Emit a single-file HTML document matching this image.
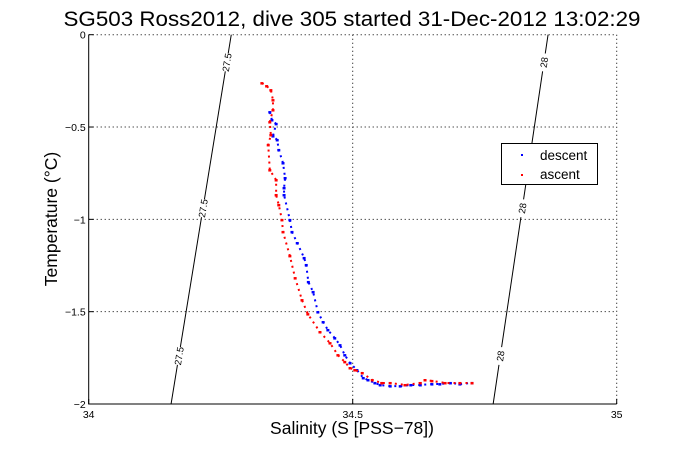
<!DOCTYPE html>
<html><head><meta charset="utf-8"><style>
html,body{margin:0;padding:0;background:#fff;}
svg{display:block;font-family:"Liberation Sans",Arial,sans-serif;}
</style></head><body>
<svg id="chart" width="681" height="454" xmlns="http://www.w3.org/2000/svg">
<rect width="681" height="454" fill="#fff"/>
<g id="grid"></g>
<g id="iso"></g>
<g id="series"></g>
<g id="axes"></g>
<text x="352" y="26" font-size="21.5" text-anchor="middle" textLength="577" lengthAdjust="spacingAndGlyphs">SG503 Ross2012, dive 305 started 31-Dec-2012 13:02:29</text>
<text x="352" y="434" font-size="17.5" text-anchor="middle">Salinity (S [PSS−78])</text>
<text transform="translate(57,219) rotate(-90)" font-size="17.5" text-anchor="middle">Temperature (°C)</text>
<g>
<rect x="501.5" y="143.5" width="96" height="41" fill="#fff" stroke="#000" stroke-width="1"/>
<rect x="521" y="154" width="2" height="2" fill="#00f"/>
<text x="540" y="160" font-size="13.5">descent</text>
<rect x="521" y="174" width="2" height="2" fill="#f00"/>
<text x="540" y="179" font-size="13.5">ascent</text>
</g>
</svg>
<script>
const xTicks=[34,34.5,35];
const xTickLabels=["34","34.5","35"];
const yTicks=[0,-0.5,-1,-1.5,-2];
const yTickLabels=["0","−0.5","−1","−1.5","−2"];
const isoLevels=["27.5","28"];
const isoSTop=[34.270,34.870];
const isoSBottom=[34.156,34.766];
const descentS=[34.343,34.347,34.355,34.349,34.357,34.360,34.368,34.372,34.370,34.370,34.381,34.385,34.395,34.408,34.412,34.416,34.425,34.434,34.444,34.453,34.466,34.476,34.485,34.495,34.508,34.520,34.529,34.542,34.552,34.571,34.590,34.610,34.628,34.650,34.665,34.685,34.703,34.726];
const descentT=[-0.419,-0.462,-0.483,-0.549,-0.570,-0.624,-0.695,-0.776,-0.830,-0.868,-1.003,-1.068,-1.128,-1.209,-1.247,-1.339,-1.393,-1.502,-1.556,-1.599,-1.643,-1.681,-1.735,-1.778,-1.816,-1.859,-1.870,-1.886,-1.897,-1.903,-1.903,-1.897,-1.897,-1.892,-1.892,-1.886,-1.892,-1.886];
const ascentS=[34.328,34.337,34.345,34.349,34.349,34.343,34.345,34.340,34.343,34.355,34.355,34.360,34.366,34.368,34.381,34.391,34.404,34.415,34.438,34.457,34.472,34.485,34.495,34.504,34.518,34.537,34.555,34.571,34.599,34.628,34.637,34.650,34.675,34.703,34.726];
const ascentT=[-0.262,-0.278,-0.300,-0.354,-0.408,-0.473,-0.543,-0.597,-0.733,-0.787,-0.868,-0.922,-1.003,-1.068,-1.198,-1.318,-1.437,-1.513,-1.610,-1.670,-1.735,-1.772,-1.805,-1.816,-1.832,-1.870,-1.886,-1.886,-1.897,-1.886,-1.870,-1.875,-1.886,-1.886,-1.886];

const X0=88.7,X1=616.7,Y0=34.7,Y1=404;
const xS=s=>X0+(s-34)*(X1-X0);
const yT=t=>Y0+(0-t)/2*(Y1-Y0);
const NS="http://www.w3.org/2000/svg";
function mk(tag,attrs,parent){const e=document.createElementNS(NS,tag);for(const k in attrs)e.setAttribute(k,attrs[k]);parent.appendChild(e);return e;}
const grid=document.getElementById('grid'),axes=document.getElementById('axes'),iso=document.getElementById('iso'),ser=document.getElementById('series');
xTicks.forEach((v,i)=>{
  const x=xS(v);
  if(i>0){const g=mk('line',{x1:x,x2:x,y1:Y0,y2:Y1,stroke:'#000','stroke-width':1,'stroke-dasharray':'1 3'},grid);
  
  }
  const t=mk('line',{x1:x,x2:x,y1:Y1,y2:Y1-5,stroke:'#000'},axes);
  
  
  const l=mk('text',{x:x,y:Y1+14,'font-size':10.5,'text-anchor':'middle'},axes);l.textContent=xTickLabels[i];
  
  
});
yTicks.forEach((v,i)=>{
  const y=yT(v);
  if(i<yTicks.length-1){const g=mk('line',{x1:X0,x2:X1,y1:y,y2:y,stroke:'#000','stroke-width':1,'stroke-dasharray':'1 3'},grid);
  
  }
  const t=mk('line',{x1:X0,x2:X0+5,y1:y,y2:y,stroke:'#000'},axes);
  
  
  const l=mk('text',{x:X0-3,y:y+4,'font-size':10.5,'text-anchor':'end'},axes);l.textContent=yTickLabels[i];
  
  
});
const ax=mk('path',{d:`M${X0},${Y0}V${Y1}H${X1}`,fill:'none',stroke:'#000','stroke-width':1},axes);


isoLevels.forEach((lv,i)=>{
  const xa=xS(isoSTop[i]),xb=xS(isoSBottom[i]);
  const ln=mk('line',{x1:xa,y1:Y0,x2:xb,y2:Y1,stroke:'#000','stroke-width':1},iso);
  
  
  const ang=Math.atan2(Y1-Y0,xb-xa)*180/Math.PI;
  [0.075,0.47,0.87].forEach(f=>{
    const x=xa+(xb-xa)*f,y=Y0+(Y1-Y0)*f;
    const g=mk('g',{transform:`translate(${x},${y}) rotate(${ang-180})`},iso);
    
    
    mk('rect',{x:-9,y:-5,width:18,height:10,fill:'#fff'},g);
    const t=mk('text',{x:0,y:3.5,'font-size':9.5,'text-anchor':'middle'},g);t.textContent=lv;
  });
});
function drawSeries(S,T,color,name){
  const pts=S.map((s,i)=>xS(s)+','+yT(T[i])).join(' ');
  const pl=mk('polyline',{points:pts,fill:'none',stroke:color,'stroke-width':2,'stroke-dasharray':'2 4'},ser);
  
  
  S.forEach((s,i)=>{
    const r=mk('rect',{x:xS(s)-1.5,y:yT(T[i])-1,width:3,height:2.5,fill:color},ser);
    
    
  });
}
drawSeries(descentS,descentT,'#00f','descent');
drawSeries(ascentS,ascentT,'#f00','ascent');
</script>
</body></html>
